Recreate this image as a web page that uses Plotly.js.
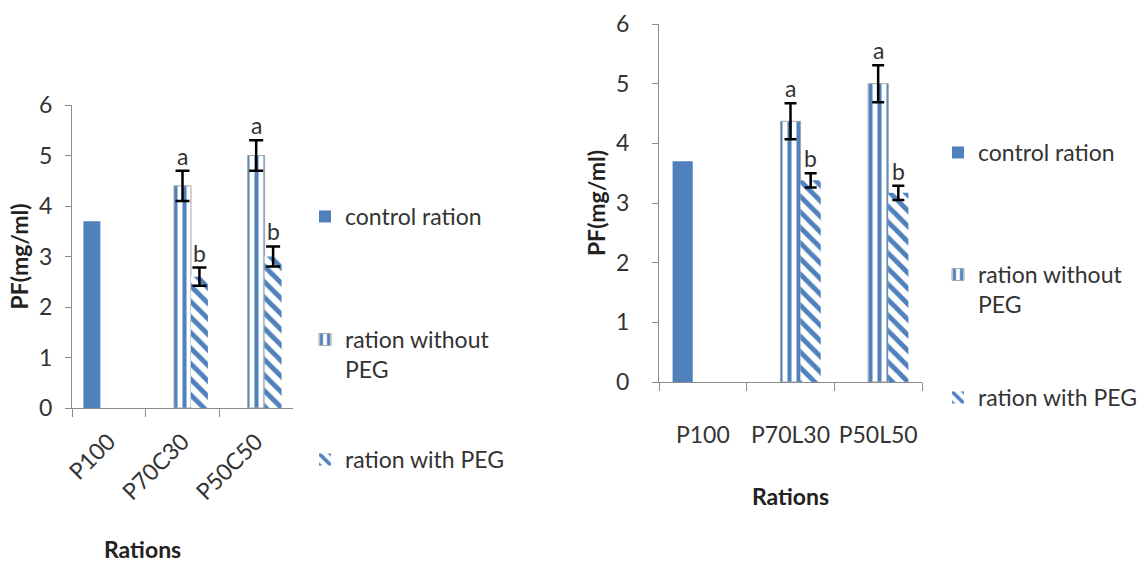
<!DOCTYPE html>
<html>
<head>
<meta charset="utf-8">
<script src="https://cdn.plot.ly/plotly-3.0.1.min.js"></script>
<style>html,body{margin:0;padding:0;background:#fff;}#chart{width:1147px;height:565px;}</style>
</head>
<body>
<div id="chart"></div>
<script>
// ---- data ----
const leftCats = ['P100', 'P70C30', 'P50C50'];
const rightCats = ['P100', 'P70L30', 'P50L50'];
const seriesNames = ['control ration', 'ration without<br>PEG', 'ration with PEG'];
const yTitle = 'PF(mg/ml)';
const xTitle = 'Rations';

const leftControl = [3.7, null, null];
const leftWithout = [null, 4.4, 5.0];
const leftWithoutErr = [0, 0.3, 0.3];
const leftWith = [null, 2.6, 3.0];
const leftWithErr = [0, 0.18, 0.2];
const leftWithoutLetters = [null, 'a', 'a'];
const leftWithLetters = [null, 'b', 'b'];

const rightControl = [3.7, null, null];
const rightWithout = [null, 4.37, 5.0];
const rightWithoutErr = [0, 0.3, 0.31];
const rightWith = [null, 3.38, 3.17];
const rightWithErr = [0, 0.12, 0.12];
const rightWithoutLetters = [null, 'a', 'a'];
const rightWithLetters = [null, 'b', 'b'];

// ---- style ----
const W = 1147, H = 565;
const BLUE = '#4F81BD';
const FONT = 'Lato, "Open Sans", sans-serif';
const TXT = '#333333';
const AX = '#8c8c8c';
const BARGAP = 0.31;
const leftDom = [72 / W, 293 / W];
const rightDom = [659 / W, 922 / W];

function mkTraces(cats, ctrl, wo, woErr, wi, wiErr, xa, ya, legs, capw) {
  return [
    {type: 'bar', x: cats, y: ctrl, name: seriesNames[0], xaxis: xa, yaxis: ya, legend: legs[0],
      marker: {color: BLUE, line: {width: 0}}},
    {type: 'bar', x: cats, y: wo, name: seriesNames[1], xaxis: xa, yaxis: ya, legend: legs[1],
      marker: {color: '#ffffff', line: {width: 1, color: '#a6a6a6'},
        pattern: {shape: '|', fgcolor: BLUE, bgcolor: '#ffffff', size: 9, solidity: 0.45}},
      error_y: {type: 'data', array: woErr, visible: true, color: '#000', thickness: 2.5, width: capw}},
    {type: 'bar', x: cats, y: wi, name: seriesNames[2], xaxis: xa, yaxis: ya, legend: legs[2],
      marker: {color: '#ffffff', line: {width: 0},
        pattern: {shape: '\\', fgcolor: BLUE, bgcolor: '#ffffff', size: 11, solidity: 0.45}},
      error_y: {type: 'data', array: wiErr, visible: true, color: '#000', thickness: 2.5, width: capw}}
  ];
}

const traces = [].concat(
  mkTraces(leftCats, leftControl, leftWithout, leftWithoutErr, leftWith, leftWithErr, 'x', 'y',
    ['legend', 'legend2', 'legend3'], 7),
  mkTraces(rightCats, rightControl, rightWithout, rightWithoutErr, rightWith, rightWithErr, 'x2', 'y2',
    ['legend4', 'legend5', 'legend6'], 6)
);

function letterAnns(cats, vals, errs, letters, xa, ya, dom, slot) {
  const catW = (dom[1] - dom[0]) * W / cats.length;
  const barW = catW * (1 - BARGAP) / 3;
  const out = [];
  cats.forEach((c, i) => {
    if (letters[i] == null || vals[i] == null) return;
    out.push({x: c, y: vals[i] + errs[i], xref: xa, yref: ya, text: letters[i], showarrow: false,
      xshift: slot * barW, yanchor: 'bottom', yshift: -1,
      font: {family: FONT, size: 23, color: TXT}});
  });
  return out;
}

const annotations = [].concat(
  letterAnns(leftCats, leftWithout, leftWithoutErr, leftWithoutLetters, 'x', 'y', leftDom, 0),
  letterAnns(leftCats, leftWith, leftWithErr, leftWithLetters, 'x', 'y', leftDom, 1),
  letterAnns(rightCats, rightWithout, rightWithoutErr, rightWithoutLetters, 'x2', 'y2', rightDom, 0),
  letterAnns(rightCats, rightWith, rightWithErr, rightWithLetters, 'x2', 'y2', rightDom, 1),
  [{x: 142 / W, y: (H - 549) / H, xref: 'paper', yref: 'paper', text: xTitle, showarrow: false,
    xanchor: 'center', yanchor: 'middle', font: {family: FONT, size: 23, color: '#222', weight: 'bold'}}]
);

function yax(dom, anchor, standoff, tstand) {
  return {domain: dom, anchor: anchor, range: [0, 6], dtick: 1, showgrid: false, zeroline: false,
    showline: true, linecolor: AX, linewidth: 1, ticks: 'outside', ticklen: 6, tickcolor: AX,
    ticklabelstandoff: tstand,
    tickfont: {family: FONT, size: 23, color: TXT}, automargin: false,
    title: {text: yTitle, font: {family: FONT, size: 23, color: '#222', weight: 'bold'}, standoff: standoff}};
}
function xax(dom, anchor, angle, tstand, withTitle) {
  const ax = {domain: dom, anchor: anchor, type: 'category', tickson: 'boundaries', showgrid: false,
    showline: true, linecolor: AX, linewidth: 1, ticks: 'outside', ticklen: 8, tickcolor: AX,
    tickangle: angle, ticklabelstandoff: tstand, automargin: false,
    tickfont: {family: FONT, size: 23, color: TXT}};
  if (withTitle) ax.title = {text: xTitle, font: {family: FONT, size: 23, color: '#222', weight: 'bold'}, standoff: 42};
  return ax;
}

function leg(xpx, ytop) {
  return {x: xpx / W, xanchor: 'left', y: (H - ytop) / H, yanchor: 'top', valign: 'top',
    bgcolor: 'rgba(0,0,0,0)', font: {family: FONT, size: 23, color: TXT}};
}

const layout = {
  width: W, height: H,
  margin: {l: 0, r: 0, t: 0, b: 0},
  paper_bgcolor: '#ffffff', plot_bgcolor: '#ffffff',
  barmode: 'group', bargap: BARGAP, bargroupgap: 0,
  xaxis: xax(leftDom, 'y', -45, 10, false),
  yaxis: yax([(H - 408) / H, (H - 105) / H], 'x', 4, 8),
  xaxis2: xax(rightDom, 'y2', 0, 32, true),
  yaxis2: yax([(H - 382) / H, (H - 24) / H], 'x2', 4, 18),
  legend: leg(305, 195),
  legend2: leg(305, 318),
  legend3: leg(305, 438),
  legend4: leg(938, 131),
  legend5: leg(938, 253),
  legend6: leg(938, 376),
  annotations: annotations,
  showlegend: true
};

Plotly.newPlot('chart', traces, layout, {displayModeBar: false, staticPlot: true});
</script>
</body>
</html>
